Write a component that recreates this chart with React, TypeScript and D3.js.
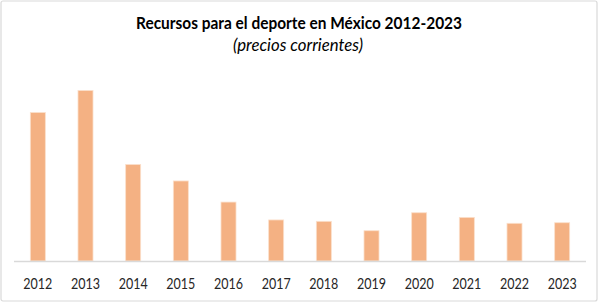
import React from "react";
import * as d3 from "d3";

const years = ["2012","2013","2014","2015","2016","2017","2018","2019","2020","2021","2022","2023"];
const values = [6400, 7350, 4160, 3450, 2540, 1770, 1710, 1305, 2080, 1880, 1625, 1650];
const title = "Recursos para el deporte en México 2012-2023";
const subtitle = "(precios corrientes)";

export default function App() {
  const W = 600, H = 304;
  const left = 14, right = 586, base = 261;
  const x = d3.scaleBand<string>().domain(years).range([left, right]).paddingInner(0.685).paddingOuter(0.3425);
  const y = d3.scaleLinear().domain([0, 8000]).range([base, base - 185.6]);
  const font = "Lato, 'Open Sans', sans-serif";
  return (
    <svg width={W} height={H} style={{ position: "absolute", left: 0, top: 0 }}>
      <rect x={0} y={0} width={W} height={H} fill="#fff" />
      <rect x={1} y={1} width={596} height={300} fill="#fff" stroke="#d9d9d9" strokeWidth={1.2} rx={2} />
      <text x={299} y={29.3} textAnchor="middle" fontFamily={font} fontWeight={700} fontSize={17.5} fill="#000" textLength={326} lengthAdjust="spacingAndGlyphs">{title}</text>
      <text x={298} y={51} textAnchor="middle" fontFamily={font} fontStyle="italic" fontSize={16.5} fill="#000" textLength={130} lengthAdjust="spacingAndGlyphs">{subtitle}</text>
      {years.map((yr, i) => (
        <rect key={yr} x={x(yr)!} y={y(values[i])} width={x.bandwidth()} height={base - y(values[i])} fill="#F4B183" stroke="#FBE0CC" strokeWidth={0.8} />
      ))}
      <line x1={left} x2={right} y1={base + 0.5} y2={base + 0.5} stroke="#d9d9d9" strokeWidth={1.5} />
      {years.map((yr) => (
        <text key={yr} x={x(yr)! + x.bandwidth() / 2} y={289} textAnchor="middle" fontFamily={font} fontSize={15} fill="#262626" textLength={29} lengthAdjust="spacingAndGlyphs">{yr}</text>
      ))}
    </svg>
  );
}
